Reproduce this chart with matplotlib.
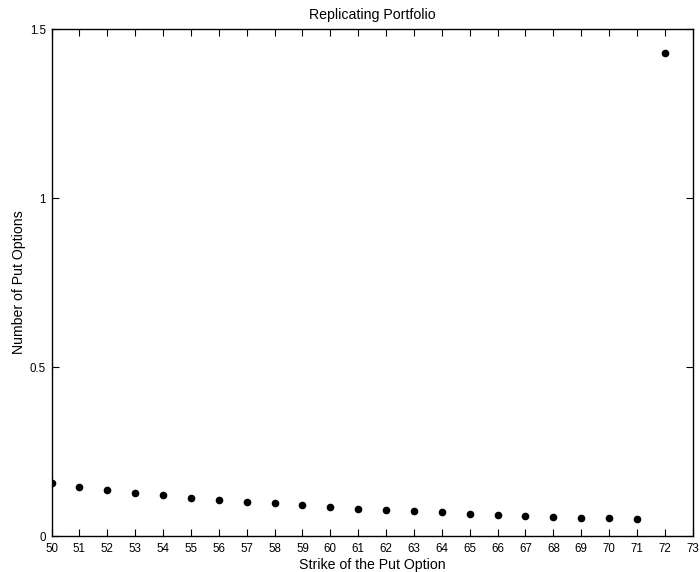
import matplotlib
matplotlib.use("Agg")
import matplotlib.pyplot as plt
import numpy as np

plt.rcParams['font.family'] = ['Liberation Sans', 'DejaVu Sans']

# strikes and number of put options in the replicating portfolio
strikes = list(range(50, 73))
num_puts = [0.156, 0.146, 0.137, 0.128, 0.121, 0.113, 0.107, 0.101, 0.097,
            0.091, 0.086, 0.081, 0.077, 0.073, 0.070, 0.066, 0.063, 0.059,
            0.056, 0.054, 0.052, 0.049, 1.428]
xticks = list(range(50, 74))
yticks = [0, 0.5, 1, 1.5]

fig = plt.figure(figsize=(7.0, 5.72), dpi=100)
ax = fig.add_axes([0.0736, 0.0629, 0.9160, 0.8864])
ax.plot(strikes, num_puts, 'o', color='black', markersize=4.5)

ax.set_xlim(50, 73)
ax.set_ylim(0, 1.5)
ax.set_xticks(xticks)
ax.set_yticks(yticks)
ax.set_yticklabels(['0', '0.5', '1', '1.5'])
ax.tick_params(direction='in', top=True, right=True, length=5, width=0.8,
               labelsize=8.3)
ax.tick_params(axis='x', pad=5)
ax.tick_params(axis='y', pad=4)
for s in ax.spines.values():
    s.set_linewidth(1.0)

ax.set_title('Replicating Portfolio', fontsize=10.2, pad=7)
ax.set_xlabel('Strike of the Put Option', fontsize=10.2, labelpad=2)
ax.set_ylabel('Number of Put Options', fontsize=10.2, labelpad=3)

fig.savefig('out.png', dpi=100)
